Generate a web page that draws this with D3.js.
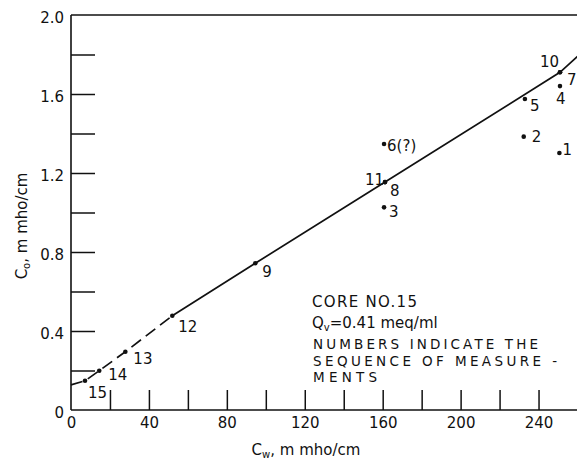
<!DOCTYPE html>
<html>
<head>
<meta charset="utf-8">
<script src="https://cdn.jsdelivr.net/npm/d3@7"></script>
<style>
  html, body { margin: 0; padding: 0; background: #fff; }
  svg { display: block; }
  text { font-family: "DejaVu Sans", sans-serif; fill: #111; }
</style>
</head>
<body>
<svg id="chart" width="577" height="460"></svg>
<script>
// Measurement sequence for core no. 15: water conductivity Cw vs. core conductivity Co
const seqLabels = ["1", "2", "3", "4", "5", "6(?)", "7", "8", "9", "10", "11", "12", "13", "14", "15"];
const cwValues  = [250.7, 232.4, 160.7, 251.0, 233.0, 160.7, 251.0, 161.2, 94.6, 251.0, 161.2, 52.0, 27.9, 14.5, 7.2];
const coValues  = [1.301, 1.384, 1.026, 1.640, 1.575, 1.347, 1.710, 1.154, 0.743, 1.710, 1.154, 0.477, 0.295, 0.199, 0.148];

// Fitted curve: dashed extrapolation at low Cw, solid through the higher-Cw points
const dashCw = [0, 7.2, 14.5, 27.9, 52.0];
const dashCo = [0.127, 0.148, 0.199, 0.295, 0.477];
const solidCw = [52.0, 94.6, 161.2, 251.0, 260];
const solidCo = [0.477, 0.743, 1.154, 1.710, 1.790];

// Axis ticks
const xTicks = [0, 20, 40, 60, 80, 100, 120, 140, 160, 180, 200, 220, 240];
const xTickLabels = ["0", "", "40", "", "80", "", "120", "", "160", "", "200", "", "240"];
const yTicks = [0, 0.2, 0.4, 0.6, 0.8, 1.0, 1.2, 1.4, 1.6, 1.8, 2.0];
const yTickLabels = ["0", "", "0.4", "", "0.8", "", "1.2", "", "1.6", "", "2.0"];

// Label placement around each point (dx, dy in px from the point)
const labelOffsets = {
  "1": [3, 2], "2": [8, 5], "3": [5, 10], "4": [-4, 18], "5": [5, 12],
  "6(?)": [3, 7], "7": [7, 13], "8": [5, 14], "9": [7, 14], "10": [-20, -5],
  "11": [-20, 3], "12": [6, 16], "13": [8, 12], "14": [9, 9], "15": [3, 17]
};

const svg = d3.select("#chart");
const x = d3.scaleLinear().domain([0, 260]).range([71, 577.5]);
const y = d3.scaleLinear().domain([0, 2]).range([410, 15]);

// Frame: left axis, top border, bottom axis
const frame = svg.append("g").attr("stroke", "#111").attr("stroke-width", 1.6).attr("fill", "none");
frame.append("line").attr("x1", x(0)).attr("x2", x(0)).attr("y1", y(2)).attr("y2", y(0));
frame.append("line").attr("x1", x(0)).attr("x2", x(260)).attr("y1", y(2)).attr("y2", y(2));
frame.append("line").attr("x1", x(0)).attr("x2", x(260)).attr("y1", y(0)).attr("y2", y(0));

const xAxis = d3.axisBottom(x)
  .tickValues(xTicks)
  .tickSize(-20)
  .tickPadding(7)
  .tickFormat((d, i) => xTickLabels[i]);
const gx = svg.append("g").attr("transform", `translate(0,${y(0)})`).call(xAxis);
gx.select(".domain").remove();
gx.selectAll(".tick line").attr("stroke", "#111").attr("stroke-width", 1.5)
  .filter(d => d === 0).remove();
gx.selectAll(".tick text").attr("font-size", 15).attr("fill", "#111")
  .style("font-family", "DejaVu Sans, sans-serif");

const yAxis = d3.axisLeft(y)
  .tickValues(yTicks)
  .tickSize(-24)
  .tickPadding(7)
  .tickFormat((d, i) => yTickLabels[i]);
const gy = svg.append("g").attr("transform", `translate(${x(0)},0)`).call(yAxis);
gy.select(".domain").remove();
gy.selectAll(".tick line").attr("stroke", "#111").attr("stroke-width", 1.5)
  .filter(d => d === 0 || d === 2).remove();
gy.selectAll(".tick text").attr("font-size", 15).attr("fill", "#111").attr("dy", "0.5em")
  .style("font-family", "DejaVu Sans, sans-serif");

// Fitted curve
const line = d3.line().x(d => x(d[0])).y(d => y(d[1]));
svg.append("path")
  .datum(dashCw.map((c, i) => [c, dashCo[i]]))
  .attr("d", line)
  .attr("fill", "none").attr("stroke", "#111").attr("stroke-width", 1.7)
  .attr("stroke-dasharray", "12,6");
svg.append("path")
  .datum(solidCw.map((c, i) => [c, solidCo[i]]))
  .attr("d", line)
  .attr("fill", "none").attr("stroke", "#111").attr("stroke-width", 1.7);

// Measurement points
const pts = seqLabels.map((s, i) => ({ s, cw: cwValues[i], co: coValues[i] }));
svg.append("g").selectAll("circle").data(pts).join("circle")
  .attr("cx", d => x(d.cw)).attr("cy", d => y(d.co)).attr("r", 2.3)
  .attr("fill", "#111");

svg.append("g").selectAll("text").data(pts).join("text")
  .attr("x", d => x(d.cw) + labelOffsets[d.s][0])
  .attr("y", d => y(d.co) + labelOffsets[d.s][1])
  .attr("font-size", 15)
  .text(d => d.s);

// Notes block
const note = svg.append("g").attr("font-size", 15);
note.append("text").attr("x", 312).attr("y", 307)
  .attr("textLength", 105).attr("lengthAdjust", "spacing").text("CORE NO.15");
const q = note.append("text").attr("x", 312).attr("y", 328);
q.append("tspan").text("Q");
q.append("tspan").attr("font-size", 10).attr("dy", 3).text("v");
q.append("tspan").attr("dy", -3).text("=0.41 meq/ml");
const notes = note.append("g").attr("font-size", 13.5);
notes.append("text").attr("x", 313).attr("y", 349)
  .attr("textLength", 225).attr("lengthAdjust", "spacing").text("NUMBERS INDICATE THE");
notes.append("text").attr("x", 313).attr("y", 365.5)
  .attr("textLength", 244).attr("lengthAdjust", "spacing").text("SEQUENCE OF MEASURE -");
notes.append("text").attr("x", 313).attr("y", 382)
  .attr("textLength", 64).attr("lengthAdjust", "spacing").text("MENTS");

// Axis titles
const xt = svg.append("text").attr("x", 306).attr("y", 455)
  .attr("text-anchor", "middle").attr("font-size", 15);
xt.append("tspan").text("C");
xt.append("tspan").attr("font-size", 10).attr("dy", 3).text("w");
xt.append("tspan").attr("dy", -3).text(", m mho/cm");

const yt = svg.append("text")
  .attr("transform", "translate(27,226) rotate(-90)")
  .attr("text-anchor", "middle").attr("font-size", 15);
yt.append("tspan").text("C");
yt.append("tspan").attr("font-size", 10).attr("dy", 3).text("o");
yt.append("tspan").attr("dy", -3).text(", m mho/cm");
</script>
</body>
</html>
